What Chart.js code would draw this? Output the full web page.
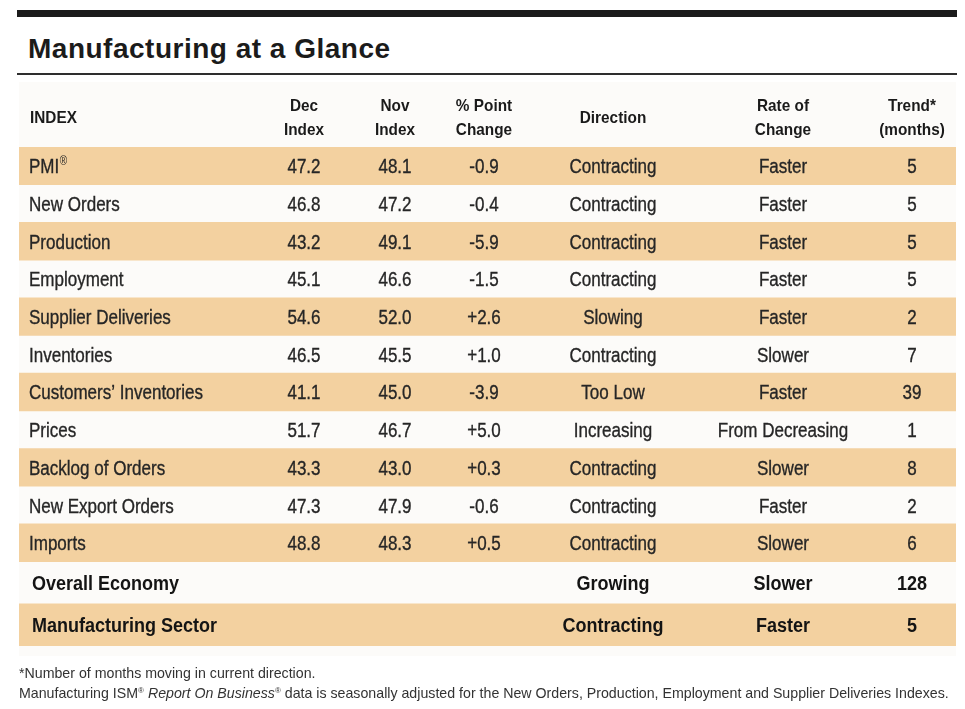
<!DOCTYPE html>
<html lang="en">
<head>
<meta charset="UTF-8">
<title>Manufacturing at a Glance</title>
<script src="https://cdn.jsdelivr.net/npm/chart.js@4.4.1/dist/chart.umd.min.js"></script>
<style>
    * { margin: 0; padding: 0; box-sizing: border-box; }
    body {
        width: 965px; height: 709px; position: relative; overflow: hidden;
        background: #fff; font-family: 'Liberation Sans', Arial, sans-serif;
    }
    .top-bar { position: absolute; left: 17px; top: 10px; width: 940px; height: 7px; background: #1b1b1b; }
    h1 {
        position: absolute; left: 28px; top: 35px; font-size: 28px; line-height: 28px;
        font-weight: bold; color: #1b1b1b; letter-spacing: 0.5px; white-space: nowrap;
    }
    .rule { position: absolute; left: 17px; top: 73px; width: 940px; height: 2px; background: #2e2e2e; }
    .panel { position: absolute; left: 19px; top: 82px; width: 937px; height: 574px; background: #fcfbf9; }
    .chart-box { position: absolute; left: 0; top: 0; width: 965px; height: 709px; }
    .notes { position: absolute; left: 19px; top: 665px; font-size: 14.2px; line-height: 17px; color: #333; white-space: nowrap; }
    .notes sup { font-size: 8px; vertical-align: 5px; }
</style>
</head>
<body>
    <div class="top-bar"></div>
    <h1>Manufacturing at a Glance</h1>
    <div class="rule"></div>
    <div class="panel"></div>
    <div class="chart-box"><canvas id="glance"></canvas></div>
    <div class="notes">
        <div>*Number of months moving in current direction.</div>
        <div>Manufacturing ISM<sup>®</sup> <i>Report On Business</i><sup>®</sup> data is seasonally adjusted for the New Orders, Production, Employment and Supplier Deliveries Indexes.</div>
    </div>

<script>
// table data
const indexNames = ['PMI®', 'New Orders', 'Production', 'Employment', 'Supplier Deliveries', 'Inventories',
    'Customers’ Inventories', 'Prices', 'Backlog of Orders', 'New Export Orders', 'Imports'];
const decIndex = [47.2, 46.8, 43.2, 45.1, 54.6, 46.5, 41.1, 51.7, 43.3, 47.3, 48.8];
const novIndex = [48.1, 47.2, 49.1, 46.6, 52.0, 45.5, 45.0, 46.7, 43.0, 47.9, 48.3];
const pointChange = ['-0.9', '-0.4', '-5.9', '-1.5', '+2.6', '+1.0', '-3.9', '+5.0', '+0.3', '-0.6', '+0.5'];
const direction = ['Contracting', 'Contracting', 'Contracting', 'Contracting', 'Slowing', 'Contracting',
    'Too Low', 'Increasing', 'Contracting', 'Contracting', 'Contracting'];
const rateOfChange = ['Faster', 'Faster', 'Faster', 'Faster', 'Faster', 'Slower', 'Faster',
    'From Decreasing', 'Slower', 'Faster', 'Slower'];
const trendMonths = [5, 5, 5, 5, 2, 7, 39, 1, 8, 2, 6];

const summaryNames = ['Overall Economy', 'Manufacturing Sector'];
const summaryDirection = ['Growing', 'Contracting'];
const summaryRate = ['Slower', 'Faster'];
const summaryTrend = [128, 5];

const headers = [
    ['Dec', 'Index'], ['Nov', 'Index'], ['% Point', 'Change'], ['Direction'], ['Rate of', 'Change'], ['Trend*', '(months)']
];

// layout: row heights in row units, column positions measured across the table width
const INDEX_ROW_H = 1;
const SUMMARY_ROW_H = 1.12;
const TABLE_LEFT = 19;
const TABLE_WIDTH = 937;
const COL_LABEL = 29;
const COL_CENTERS = [304, 395, 484, 613, 783, 912];
const BAND = '#f3d1a0';
const FONT = '"Liberation Sans", Arial, sans-serif';
const SQUEEZE = 0.83;       // condensed look for body text
const SQUEEZE_HEAD = 0.93;
const SQUEEZE_BOLD = 0.9;

// row edges
const rowEdges = [0];
indexNames.forEach(() => rowEdges.push(rowEdges[rowEdges.length - 1] + INDEX_ROW_H));
summaryNames.forEach(() => rowEdges.push(rowEdges[rowEdges.length - 1] + SUMMARY_ROW_H));
const totalRows = rowEdges.length - 1;

// shaded bands on every other row
const bandData = [];
for (let r = 0; r < totalRows; r += 2) {
    bandData.push({ x: 'row', y: [rowEdges[r], rowEdges[r + 1]] });
}

function rowMid(r) {
    return (rowEdges[r] + rowEdges[r + 1]) / 2;
}

function colPx(xs, v) {
    return xs.getPixelForDecimal((v - TABLE_LEFT) / TABLE_WIDTH);
}

// squeezed text, returns drawn width
function drawText(ctx, text, x, y, align, sx, stroke) {
    const w = ctx.measureText(text).width * sx;
    const left = align === 'center' ? x - w / 2 : x;
    ctx.save();
    ctx.translate(left, y);
    ctx.scale(sx, 1);
    ctx.textAlign = 'left';
    ctx.fillText(text, 0, 0);
    if (stroke) {
        ctx.lineWidth = stroke;
        ctx.strokeStyle = ctx.fillStyle;
        ctx.strokeText(text, 0, 0);
    }
    ctx.restore();
    return w;
}

const tableText = {
    id: 'tableText',
    afterDatasetsDraw(chart) {
        const ctx = chart.ctx;
        const ys = chart.scales.y;
        const xs = chart.scales.x;
        const top = chart.chartArea.top;
        ctx.save();
        ctx.textBaseline = 'alphabetic';

        // column headers
        ctx.fillStyle = '#1a1a1a';
        ctx.font = 'bold 16.5px ' + FONT;
        drawText(ctx, 'INDEX', colPx(xs, COL_LABEL + 1), top - 24, 'left', SQUEEZE_HEAD);
        headers.forEach((lines, c) => {
            const x = colPx(xs, COL_CENTERS[c]);
            if (lines.length === 1) {
                drawText(ctx, lines[0], x, top - 24, 'center', SQUEEZE_HEAD);
            } else {
                drawText(ctx, lines[0], x, top - 36, 'center', SQUEEZE_HEAD);
                drawText(ctx, lines[1], x, top - 12, 'center', SQUEEZE_HEAD);
            }
        });

        // index rows
        ctx.fillStyle = '#262626';
        indexNames.forEach((name, r) => {
            const y = ys.getPixelForValue(rowMid(r)) + 7.5;
            ctx.font = '20.5px ' + FONT;
            const parts = name.split('®');
            const lx = colPx(xs, COL_LABEL);
            const w = drawText(ctx, parts[0], lx, y, 'left', SQUEEZE, 0.35);
            if (parts.length > 1) {
                ctx.font = '12px ' + FONT;
                drawText(ctx, '®', lx + w + 0.5, y - 8, 'left', SQUEEZE);
                ctx.font = '20.5px ' + FONT;
            }
            const cells = [decIndex[r].toFixed(1), novIndex[r].toFixed(1), pointChange[r],
                direction[r], rateOfChange[r], String(trendMonths[r])];
            cells.forEach((t, c) => drawText(ctx, t, colPx(xs, COL_CENTERS[c]), y, 'center', SQUEEZE, 0.35));
        });

        // summary rows
        ctx.fillStyle = '#141414';
        ctx.font = 'bold 20px ' + FONT;
        summaryNames.forEach((name, i) => {
            const r = indexNames.length + i;
            const y = ys.getPixelForValue(rowMid(r)) + 7.2;
            drawText(ctx, name, colPx(xs, COL_LABEL + 3), y, 'left', SQUEEZE_BOLD);
            drawText(ctx, summaryDirection[i], colPx(xs, COL_CENTERS[3]), y, 'center', SQUEEZE_BOLD);
            drawText(ctx, summaryRate[i], colPx(xs, COL_CENTERS[4]), y, 'center', SQUEEZE_BOLD);
            drawText(ctx, String(summaryTrend[i]), colPx(xs, COL_CENTERS[5]), y, 'center', SQUEEZE_BOLD);
        });
        ctx.restore();
    }
};

new Chart(document.getElementById('glance'), {
    type: 'bar',
    data: {
        labels: ['row'],
        datasets: [{
            data: bandData,
            backgroundColor: BAND,
            borderWidth: 0,
            barPercentage: 1,
            categoryPercentage: 1
        }]
    },
    options: {
        responsive: true,
        maintainAspectRatio: false,
        animation: false,
        layout: { padding: { left: 19, right: 9, top: 147, bottom: 63 } },
        scales: {
            x: { display: false },
            y: { type: 'linear', display: false, reverse: true, min: 0, max: totalRows + (SUMMARY_ROW_H - 1) * summaryNames.length }
        },
        plugins: { legend: { display: false }, tooltip: { enabled: false } }
    },
    plugins: [tableText]
});
</script>
</body>
</html>
